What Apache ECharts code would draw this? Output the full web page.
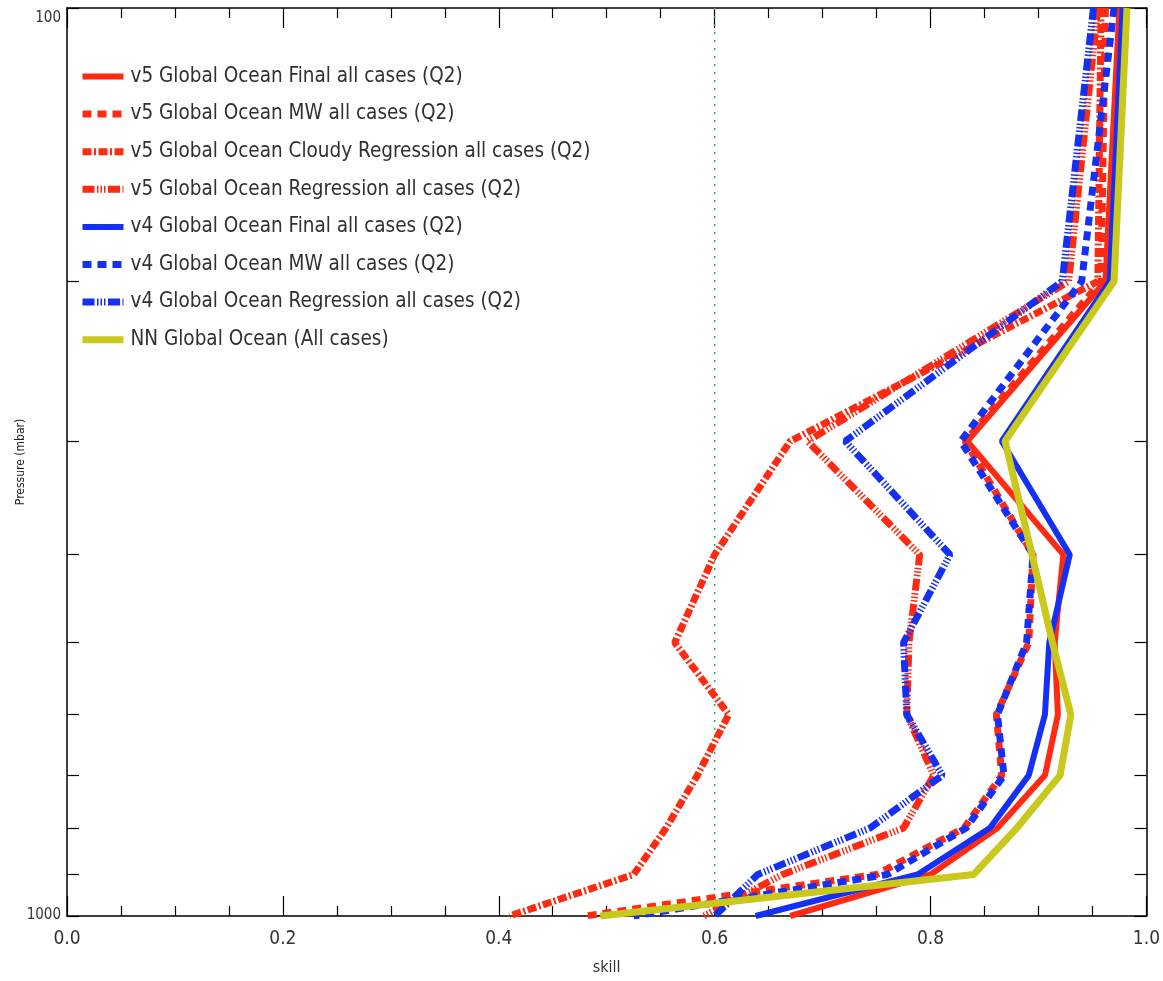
<!DOCTYPE html>
<html><head><meta charset="utf-8">
<script src="https://cdn.jsdelivr.net/npm/echarts@6/dist/echarts.min.js"></script>
<style>html,body{margin:0;padding:0;background:#fff}#c{width:1163px;height:981px}</style>
</head><body><div id="c"></div>
<script>
// ---- data ----
const pressureLevels = [100, 200, 300, 400, 500, 600, 700, 800, 900, 1000];
const seriesNames = [
  'v5 Global Ocean Final all cases (Q2)',
  'v5 Global Ocean MW all cases (Q2)',
  'v5 Global Ocean Cloudy Regression all cases (Q2)',
  'v5 Global Ocean Regression all cases (Q2)',
  'v4 Global Ocean Final all cases (Q2)',
  'v4 Global Ocean MW all cases (Q2)',
  'v4 Global Ocean Regression all cases (Q2)',
  'NN Global Ocean (All cases)'
];
const v5Final      = [0.975, 0.962, 0.834, 0.923, 0.915, 0.918, 0.906, 0.862, 0.800, 0.670];
const v5MW         = [0.962, 0.958, 0.832, 0.895, 0.891, 0.861, 0.866, 0.831, 0.750, 0.480];
const v5Cloudy     = [0.958, 0.955, 0.670, 0.600, 0.563, 0.613, 0.584, 0.555, 0.525, 0.410];
const v5Regression = [0.955, 0.928, 0.686, 0.790, 0.780, 0.778, 0.803, 0.775, 0.663, 0.590];
const v4Final      = [0.978, 0.966, 0.866, 0.929, 0.910, 0.906, 0.891, 0.855, 0.788, 0.638];
const v4MW         = [0.970, 0.940, 0.828, 0.895, 0.889, 0.862, 0.868, 0.833, 0.760, 0.525];
const v4Regression = [0.951, 0.922, 0.721, 0.818, 0.775, 0.778, 0.811, 0.744, 0.640, 0.600];
const nnValues     = [0.982, 0.970, 0.869, 0.894, 0.913, 0.930, 0.920, 0.880, 0.840, 0.494];
const referenceSkill = [0.6];
const xTickLabels = ['0.0', '0.2', '0.4', '0.6', '0.8', '1.0'];
const yTickValues = [100, 200, 300, 400, 500, 600, 700, 800, 900, 1000];
const yLabelValues = [100, 1000];

// ---- styles ----
const RED = '#ff2a12', BLUE = '#1530f5', YEL = '#c9c81c';
const FONT = "'DejaVu Sans Condensed', 'Liberation Sans Narrow', 'Liberation Sans', sans-serif";
const DASH = [9, 6];
const DASHDOT = [9, 2.5, 2, 2.5];
const DASHDOTDOT = [12, 2.5, 1.5, 2, 1.5, 2, 1.5, 2.5];
const styles = [
  {color: RED, width: 6, type: 'solid'},
  {color: RED, width: 7, type: DASH},
  {color: RED, width: 7, type: DASHDOT},
  {color: RED, width: 7, type: DASHDOTDOT},
  {color: BLUE, width: 6, type: 'solid'},
  {color: BLUE, width: 7, type: DASH},
  {color: BLUE, width: 7, type: DASHDOTDOT},
  {color: YEL, width: 7, type: 'solid'}
];
const allValues = [v5Final, v5MW, v5Cloudy, v5Regression, v4Final, v4MW, v4Regression, nnValues];

const series = allValues.map((vals, i) => ({
  name: seriesNames[i],
  type: 'line',
  symbol: 'none',
  silent: true,
  animation: false,
  z: 3 + i,
  lineStyle: styles[i],
  itemStyle: {color: styles[i].color},
  data: vals.map((v, k) => [v, pressureLevels[k]])
}));
series.unshift({
  name: 'ref', type: 'line', symbol: 'none', silent: true, animation: false, z: 2,
  lineStyle: {color: '#34ad62', width: 1.6, type: [2, 6]},
  data: [[referenceSkill[0], yTickValues[0]], [referenceSkill[0], yTickValues[yTickValues.length - 1]]]
});

const xAxisBase = {
  type: 'value', min: 0, max: 1, interval: 0.2,
  axisLine: {show: true, onZero: false, lineStyle: {color: '#000', width: 1.5}},
  axisTick: {show: true, inside: true, length: 20, lineStyle: {color: '#000', width: 1.2}},
  minorTick: {show: true, splitNumber: 4, length: 10, lineStyle: {color: '#000', width: 1.2}},
  splitLine: {show: false}, minorSplitLine: {show: false}
};
const yAxisBase = {
  type: 'log', logBase: 10, min: 100, max: 1000, inverse: true,
  axisLine: {show: true, onZero: false, lineStyle: {color: '#000', width: 1.5}},
  axisTick: {show: true, inside: true, length: 12, customValues: yTickValues, lineStyle: {color: '#000', width: 1.2}},
  minorTick: {show: false}, splitLine: {show: false}
};

const chart = echarts.init(document.getElementById('c'), null, {renderer: 'canvas'});
chart.setOption({
  backgroundColor: '#fff',
  animation: false,
  grid: {left: 67, right: 13, top: 8, bottom: 59, containLabel: false},
  legend: {
    data: seriesNames,
    orient: 'vertical', left: 79, top: 66, padding: 0,
    itemWidth: 41, itemHeight: 14, itemGap: 16.6,
    selectedMode: false,
    itemStyle: {opacity: 0},
    lineStyle: {width: 'inherit'},
    textStyle: {fontFamily: FONT, fontSize: 20.5, color: '#303030', lineHeight: 21, padding: [0, 0, 0, 2]}
  },
  xAxis: [
    Object.assign({}, xAxisBase, {
      position: 'bottom',
      axisLabel: {show: true, margin: 14, fontFamily: FONT, fontSize: 19, color: '#333',
        formatter: v => xTickLabels[Math.round(v / 0.2)]},
      name: 'skill', nameLocation: 'middle', nameGap: 44, nameMoveOverlap: false,
      nameTextStyle: {fontFamily: FONT, fontSize: 16, color: '#333'}
    }),
    Object.assign({}, xAxisBase, {position: 'top', axisLabel: {show: false}})
  ],
  yAxis: [
    Object.assign({}, yAxisBase, {
      position: 'left',
      axisLabel: {show: true, customValues: yLabelValues, margin: 6, fontFamily: FONT, fontSize: 15, color: '#333',
        formatter: v => v === 100 ? '{t|' + v + '}' : '{b|' + v + '}',
        rich: {
          t: {fontFamily: FONT, fontSize: 15, color: '#333', padding: [20, 0, 0, 0]},
          b: {fontFamily: FONT, fontSize: 15, color: '#333', padding: [0, 0, 2, 0]}
        }},
      name: 'Pressure (mbar)', nameLocation: 'middle', nameGap: 40, nameRotate: 90, nameMoveOverlap: false,
      nameTextStyle: {fontFamily: FONT, fontSize: 12, color: '#222'}
    }),
    Object.assign({}, yAxisBase, {position: 'right', axisLabel: {show: false}})
  ],
  series: series
});
</script>
</body></html>
